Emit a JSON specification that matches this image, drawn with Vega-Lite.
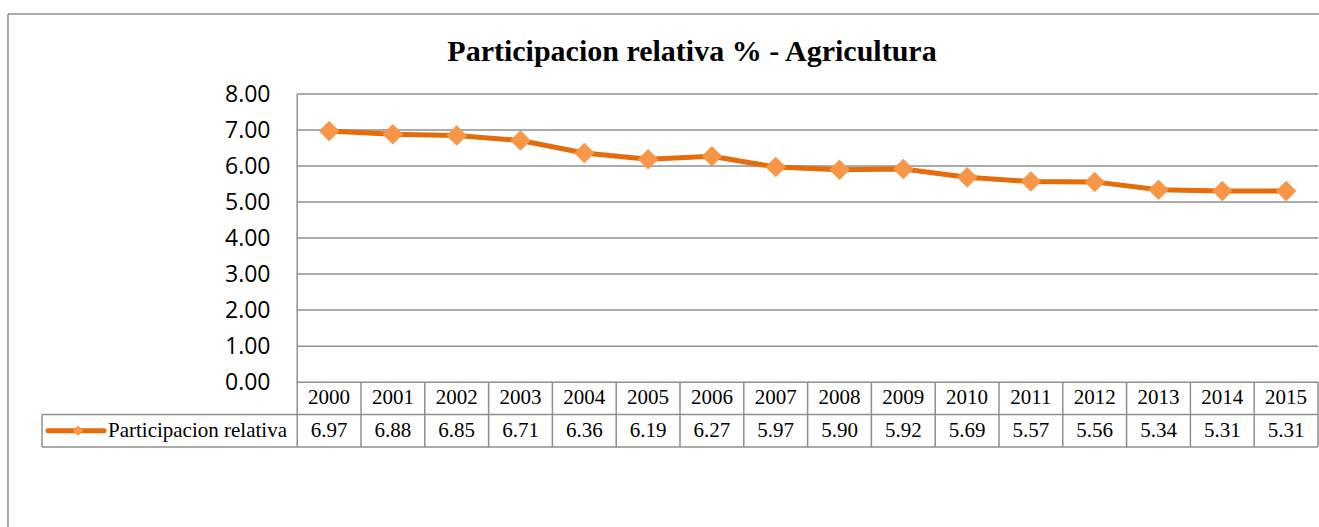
{
  "$schema": "https://vega.github.io/schema/vega-lite/v6.json",
  "width": 1276,
  "height": 353,
  "autosize": {"type": "none"},
  "padding": {"left": 42, "top": 94, "right": 1, "bottom": 80},
  "background": "white",
  "config": {"view": {"stroke": null}},
  "title": {
    "text": "Participacion relativa % - Agricultura",
    "font": "Times New Roman, Liberation Serif, DejaVu Serif, serif",
    "fontSize": 30,
    "fontWeight": "bold",
    "color": "#000000",
    "anchor": "middle",
    "dx": 12,
    "offset": -54
  },
  "datasets": {
    "main": [
      {"year": 2000, "value": 6.97},
      {"year": 2001, "value": 6.88},
      {"year": 2002, "value": 6.85},
      {"year": 2003, "value": 6.71},
      {"year": 2004, "value": 6.36},
      {"year": 2005, "value": 6.19},
      {"year": 2006, "value": 6.27},
      {"year": 2007, "value": 5.97},
      {"year": 2008, "value": 5.90},
      {"year": 2009, "value": 5.92},
      {"year": 2010, "value": 5.69},
      {"year": 2011, "value": 5.57},
      {"year": 2012, "value": 5.56},
      {"year": 2013, "value": 5.34},
      {"year": 2014, "value": 5.31},
      {"year": 2015, "value": 5.31}
    ],
    "grid": [{"v": 0}, {"v": 1}, {"v": 2}, {"v": 3}, {"v": 4}, {"v": 5}, {"v": 6}, {"v": 7}, {"v": 8}],
    "cols": [
      {"b": 2000.5}, {"b": 2001.5}, {"b": 2002.5}, {"b": 2003.5}, {"b": 2004.5}, {"b": 2005.5},
      {"b": 2006.5}, {"b": 2007.5}, {"b": 2008.5}, {"b": 2009.5}, {"b": 2010.5}, {"b": 2011.5},
      {"b": 2012.5}, {"b": 2013.5}, {"b": 2014.5}, {"b": 2015.5}
    ],
    "rows": [{"r": -0.9}, {"r": -1.8}]
  },
  "resolve": {"scale": {"x": "shared", "y": "shared"}},
  "layer": [
    {
      "data": {"name": "grid"},
      "mark": {"type": "rule", "color": "#8e8e8e", "strokeWidth": 1.5},
      "encoding": {
        "y": {
          "field": "v",
          "type": "quantitative",
          "scale": {"domain": [-1.8, 8], "nice": false, "zero": false},
          "axis": {
            "values": [0, 1, 2, 3, 4, 5, 6, 7, 8],
            "format": ".2f",
            "offset": -255,
            "labelPadding": 27,
            "labelFont": "Open Sans",
            "labelFontSize": 23,
            "labelColor": "#000000",
            "domain": false,
            "ticks": false,
            "grid": false,
            "title": null
          }
        },
        "x": {
          "datum": 1999.5,
          "type": "quantitative",
          "scale": {"domain": [1995.5, 2015.5], "nice": false, "zero": false},
          "axis": null
        },
        "x2": {"datum": 2015.5}
      }
    },
    {
      "data": {"name": "cols"},
      "mark": {"type": "rule", "color": "#8e8e8e", "strokeWidth": 1.5},
      "encoding": {
        "x": {"field": "b", "type": "quantitative"},
        "y": {"datum": 0},
        "y2": {"datum": -1.8}
      }
    },
    {
      "data": {"name": "rows"},
      "mark": {"type": "rule", "color": "#8e8e8e", "strokeWidth": 1.5},
      "encoding": {
        "y": {"field": "r", "type": "quantitative"},
        "x": {"datum": 1995.5},
        "x2": {"datum": 2015.5}
      }
    },
    {
      "data": {"values": [{}]},
      "mark": {"type": "rule", "color": "#8e8e8e", "strokeWidth": 1.5},
      "encoding": {
        "x": {"datum": 1999.5},
        "y": {"datum": 8},
        "y2": {"datum": -1.8}
      }
    },
    {
      "data": {"values": [{}]},
      "mark": {"type": "rule", "color": "#8e8e8e", "strokeWidth": 1.5},
      "encoding": {
        "x": {"datum": 1995.5},
        "y": {"datum": -0.9},
        "y2": {"datum": -1.8}
      }
    },
    {
      "data": {"values": [{}]},
      "mark": {"type": "rule", "color": "#8e8e8e", "strokeWidth": 1.5},
      "encoding": {
        "x": {"datum": 1994.967},
        "y": {"datum": 10.221},
        "y2": {"datum": -8}
      }
    },
    {
      "data": {"values": [{}]},
      "mark": {"type": "rule", "color": "#8e8e8e", "strokeWidth": 1.5},
      "encoding": {
        "x": {"datum": 1994.967},
        "x2": {"datum": 2030},
        "y": {"datum": 10.221}
      }
    },
    {
      "data": {"name": "main"},
      "mark": {"type": "line", "color": "#E46C0A", "strokeWidth": 5},
      "encoding": {
        "x": {"field": "year", "type": "quantitative"},
        "y": {"field": "value", "type": "quantitative"}
      }
    },
    {
      "data": {"name": "main"},
      "mark": {"type": "point", "shape": "diamond", "filled": true, "color": "#F79646", "opacity": 1, "size": 420},
      "encoding": {
        "x": {"field": "year", "type": "quantitative"},
        "y": {"field": "value", "type": "quantitative"}
      }
    },
    {
      "data": {"name": "main"},
      "mark": {"type": "text", "font": "Times New Roman, Liberation Serif, DejaVu Serif, serif", "fontSize": 21, "color": "#000000", "baseline": "middle", "align": "center"},
      "encoding": {
        "x": {"field": "year", "type": "quantitative"},
        "y": {"datum": -0.45},
        "text": {"field": "year", "type": "nominal"}
      }
    },
    {
      "data": {"name": "main"},
      "mark": {"type": "text", "font": "Times New Roman, Liberation Serif, DejaVu Serif, serif", "fontSize": 21, "color": "#000000", "baseline": "middle", "align": "center"},
      "encoding": {
        "x": {"field": "year", "type": "quantitative"},
        "y": {"datum": -1.35},
        "text": {"field": "value", "type": "quantitative", "format": ".2f"}
      }
    },
    {
      "data": {"values": [{}]},
      "mark": {"type": "rule", "color": "#E46C0A", "strokeWidth": 5, "strokeCap": "round"},
      "encoding": {
        "x": {"datum": 1995.594},
        "x2": {"datum": 1996.472},
        "y": {"datum": -1.35}
      }
    },
    {
      "data": {"values": [{}]},
      "mark": {"type": "point", "shape": "diamond", "filled": true, "color": "#F79646", "opacity": 1, "size": 110},
      "encoding": {
        "x": {"datum": 1996.064},
        "y": {"datum": -1.35}
      }
    },
    {
      "data": {"values": [{"label": "Participacion relativa"}]},
      "mark": {"type": "text", "font": "Times New Roman, Liberation Serif, DejaVu Serif, serif", "fontSize": 21, "color": "#000000", "baseline": "middle", "align": "left"},
      "encoding": {
        "x": {"datum": 1996.534},
        "y": {"datum": -1.35},
        "text": {"field": "label", "type": "nominal"}
      }
    }
  ]
}
